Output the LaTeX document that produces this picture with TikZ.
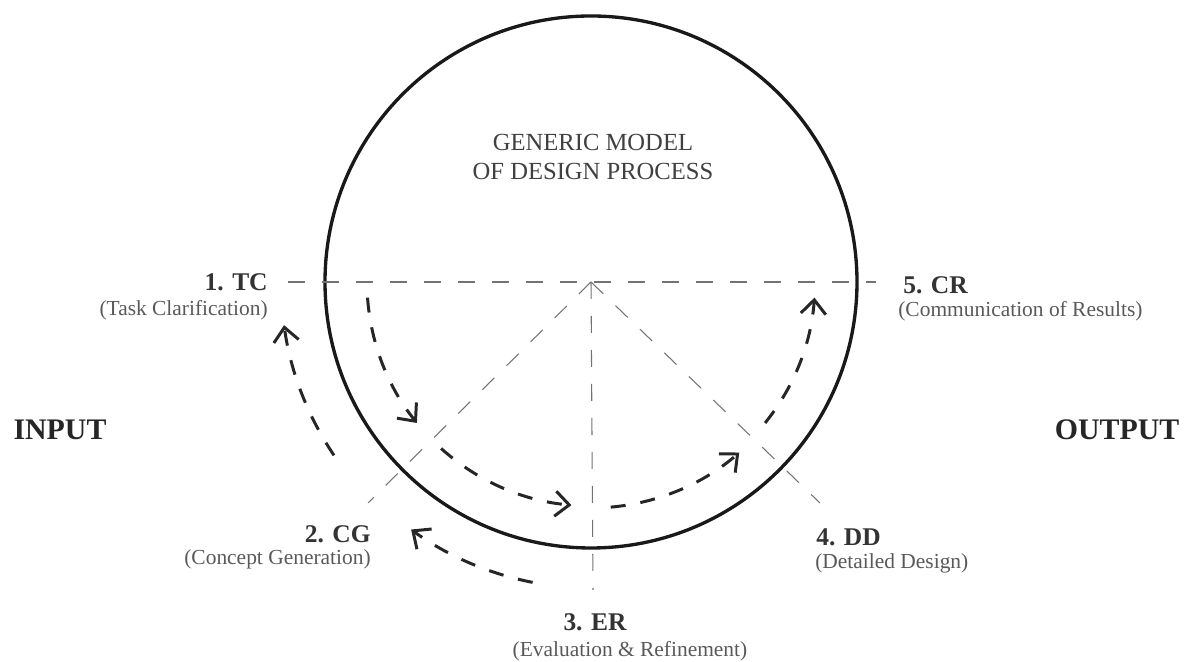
\documentclass[tikz,border=0pt]{standalone}
\usepackage{fontspec}
\setmainfont{Liberation Serif}
\usetikzlibrary{positioning,arrows.meta}

\begin{document}
\begin{tikzpicture}[
        x=0.02cm, y=0.02cm,
        stage/.style={
            % The text
            font = \fontsize{14.5}{16}\selectfont\bfseries,
            % The color
            color = black!80,
            inner sep = 0pt
        },
        expl/.style={
            % The text
            font = \fontsize{12.2}{14}\selectfont,
            % The color
            color = black!65,
            inner sep = 0pt
        },
        side/.style={
            % The text
            font = \fontsize{17}{19}\selectfont\bfseries,
            % The color
            color = black!85,
            inner sep = 0pt
        },
        guide/.style={
            % The line
            line width = 0.6pt,
            draw = black!55,
            dash pattern = on 0.34cm off 0.34cm
        },
        flow/.style={
            % The line
            line width = 1.7pt,
            draw = black!85,
            dash pattern = on 0.3cm off 0.3cm,
            % The tip
            -{Straight Barb[length=0.28cm,width=0.5cm]}
        },
    ]
        \useasboundingbox (0,0) rectangle (1191,662);

        \coordinate (c) at (591,380);
        \coordinate (leftEnd) at (288,380);
        \coordinate (rightEnd) at (876,380);
        \coordinate (cgEnd) at (368,159);
        \coordinate (erEnd) at (593,72);
        \coordinate (ddEnd) at (820,159);

        % The model
        \draw[line width=1.9pt,black!90] (c) circle[radius=266];
        \node (model) [align=center,color=black!75,font=\fontsize{14}{16.5}\selectfont] at (593,505) {GENERIC MODEL\\OF DESIGN PROCESS};

        % Guide lines
        \draw[guide] (leftEnd) -- (rightEnd);
        \draw[guide] (c) -- (cgEnd);
        \draw[guide] (c) -- (erEnd);
        \draw[guide] (c) -- (ddEnd);

        % Stages
        \node (tc) [stage,anchor=east] at (268,380) {1. TC};
        \node (tcSub) [expl,below left=0.18cm and 0cm of tc.south east] {(Task Clarification)};
        \node (cg) [stage,anchor=east] at (371,128) {2. CG};
        \node (cgSub) [expl,below left=0.12cm and 0cm of cg.south east] {(Concept Generation)};
        \node (er) [stage] at (595,40) {3. ER};
        \node (erSub) [expl] at (630,11) {(Evaluation \& Refinement)};
        \node (dd) [stage,anchor=west] at (816,125) {4. DD};
        \node (ddSub) [expl,below right=0.14cm and -0.02cm of dd.south west] {(Detailed Design)};
        \node (cr) [stage,anchor=west] at (903,377) {5. CR};
        \node (crSub) [expl,below right=0.14cm and -0.1cm of cr.south west] {(Communication of Results)};

        \node (input) [side] at (60,232) {INPUT};
        \node (output) [side] at (1117,232) {OUTPUT};

        % Forward flow
        \draw[flow] ([shift={(184:224)}]c) arc[start angle=184,end angle=219,radius=224];
        \draw[flow] ([shift={(228:224)}]c) arc[start angle=228,end angle=265,radius=224];
        \draw[flow] ([shift={(275:226)}]c) arc[start angle=275,end angle=311,radius=226];
        \draw[flow] ([shift={(321:224)}]c) arc[start angle=321,end angle=356,radius=224];

        % Iterations back
        \draw[flow] ([shift={(214:310)}]c) arc[start angle=214,end angle=188,radius=310];
        \draw[flow] ([shift={(259:306)}]c) arc[start angle=259,end angle=234,radius=306];

    \end{tikzpicture}
\end{document}
